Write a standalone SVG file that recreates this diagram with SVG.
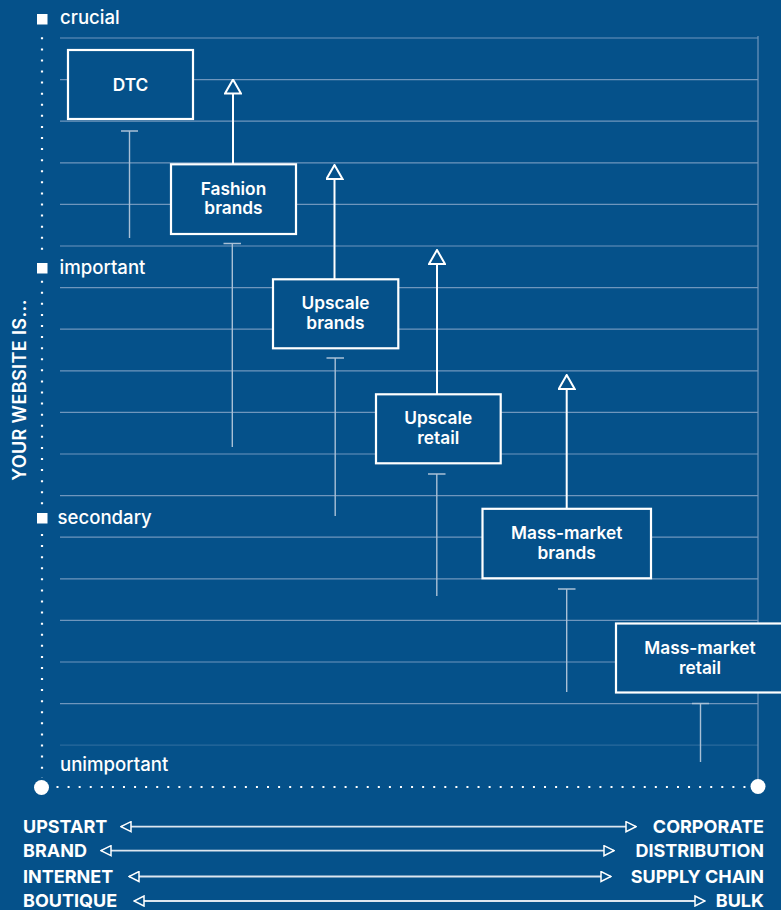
<svg xmlns="http://www.w3.org/2000/svg" width="781" height="910" viewBox="0 0 781 910">
  <style>
    .bg { fill: #05518a; }
    .grid { stroke: #6f96bd; stroke-width: 1.2; fill: none; }
    .dots { stroke: #ffffff; stroke-width: 2.2; stroke-dasharray: 2 9.08; fill: none; }
    .box { fill: #05518a; stroke: #ffffff; stroke-width: 2.2; }
    .up { stroke: #ffffff; stroke-width: 2; fill: none; }
    .stem { stroke: #a9c0d6; stroke-width: 1.4; fill: none; }
    .axis { stroke: #dde6ef; stroke-width: 1.8; fill: none; }
    .lbl { font-family: Inter, "Liberation Sans", sans-serif; font-weight: 500; font-size: 18.6px; fill: #ffffff; }
    .node { font-family: Inter, "Liberation Sans", sans-serif; font-weight: 600; font-size: 17.3px; fill: #ffffff; text-anchor: middle; }
    .cap { font-family: Inter, "Liberation Sans", sans-serif; font-weight: 700; font-size: 18px; fill: #ffffff; }
    .ttl { font-family: Inter, "Liberation Sans", sans-serif; font-weight: 600; font-size: 18px; letter-spacing: 0.4px; fill: #ffffff; }
  </style>
  <defs>
    <marker id="tri-up" viewBox="0 0 16 18" refX="15" refY="9" markerWidth="16" markerHeight="18" markerUnits="userSpaceOnUse" orient="auto">
      <path d="M1,1 L15,9 L1,17 Z" fill="#05518a" stroke="#ffffff" stroke-width="2"/>
    </marker>
    <marker id="tri-axis" viewBox="0 0 12 12" refX="11" refY="6" markerWidth="12" markerHeight="12" markerUnits="userSpaceOnUse" orient="auto-start-reverse">
      <path d="M1,1 L11,6 L1,11 Z" fill="#05518a" stroke="#ffffff" stroke-width="1.5"/>
    </marker>
  </defs>

  <rect class="bg" x="0" y="0" width="781" height="910"/>

  <!-- horizontal grid -->
  <g id="grid">
    <path class="grid" d="M60,38H758 M60,79.6H758 M60,121.2H758 M60,162.8H758 M60,204.4H758 M60,246H758 M60,287.6H758 M60,329.2H758 M60,370.8H758 M60,412.4H758 M60,454H758 M60,495.6H758 M60,537.2H758 M60,578.8H758 M60,620.4H758 M60,662H758 M60,703.6H758"/>
    <path class="grid" d="M60,745.2H758" opacity="0.35"/>
    <path class="grid" d="M758,36V787"/>
  </g>

  <!-- vertical axis: importance scale -->
  <g id="y-axis">
    <path class="dots" d="M42,37.3V250 M42,280.7V505 M42,534V778"/>
    <rect x="37" y="14" width="10.5" height="10.5" fill="#ffffff"/>
    <rect x="37" y="263" width="10.5" height="10.5" fill="#ffffff"/>
    <rect x="37" y="513" width="10.5" height="10.5" fill="#ffffff"/>
    <text class="lbl" x="60" y="24">crucial</text>
    <text class="lbl" x="59.5" y="273.5">important</text>
    <text class="lbl" x="57.5" y="523.5">secondary</text>
    <text class="lbl" x="60" y="771">unimportant</text>
    <text class="ttl" transform="translate(26,390) rotate(-90)" text-anchor="middle">YOUR WEBSITE IS...</text>
  </g>

  <!-- horizontal base axis -->
  <g id="x-axis">
    <path class="dots" d="M56.5,787H748" stroke-dasharray="2 9.05"/>
    <circle cx="41.5" cy="787.5" r="7.5" fill="#ffffff"/>
    <circle cx="758" cy="786.5" r="7.5" fill="#ffffff"/>
  </g>

  <!-- connectors: rising arrows and T-bar stems -->
  <g id="connectors">
    <path class="stem" d="M121,131H138 M129.5,131V238"/>
    <path class="stem" d="M223.5,243.5H241 M232.3,243.5V447"/>
    <path class="stem" d="M326.5,358H344 M335.2,358V516"/>
    <path class="stem" d="M428,474H445.5 M436.8,474V596"/>
    <path class="stem" d="M558,589H575.5 M566.7,589V692"/>
    <path class="stem" d="M692,703.5H709 M700.5,703.5V762"/>

    <path class="up" d="M233,164V79.5" marker-end="url(#tri-up)"/>
    <path class="up" d="M334.5,279V165" marker-end="url(#tri-up)"/>
    <path class="up" d="M437,394V250" marker-end="url(#tri-up)"/>
    <path class="up" d="M566.7,509V375" marker-end="url(#tri-up)"/>
  </g>

  <g id="dtc">
    <rect class="box" x="68" y="50" width="125" height="69"/>
    <text class="node" x="130.5" y="91">DTC</text>
  </g>
  <g id="fashion-brands">
    <rect class="box" x="171" y="164.3" width="125" height="69.7"/>
    <text class="node" x="233.5" y="194.5">Fashion</text>
    <text class="node" x="233.5" y="214">brands</text>
  </g>
  <g id="upscale-brands">
    <rect class="box" x="273" y="279.3" width="125.3" height="69"/>
    <text class="node" x="335.5" y="309">Upscale</text>
    <text class="node" x="335.5" y="328.5">brands</text>
  </g>
  <g id="upscale-retail">
    <rect class="box" x="376" y="394.3" width="124.7" height="69"/>
    <text class="node" x="438.3" y="424">Upscale</text>
    <text class="node" x="438.3" y="443.5">retail</text>
  </g>
  <g id="mass-market-brands">
    <rect class="box" x="482.5" y="508.8" width="168.5" height="69.5"/>
    <text class="node" x="566.7" y="539">Mass-market</text>
    <text class="node" x="566.7" y="558.5">brands</text>
  </g>
  <g id="mass-market-retail">
    <rect class="box" x="616" y="623.5" width="168.5" height="69"/>
    <text class="node" x="700" y="654">Mass-market</text>
    <text class="node" x="700" y="673.5">retail</text>
  </g>

  <!-- spectrum legend -->
  <g id="legend">
    <path class="axis" d="M121,826.7H636" marker-start="url(#tri-axis)" marker-end="url(#tri-axis)"/>
    <path class="axis" d="M101,850.7H614" marker-start="url(#tri-axis)" marker-end="url(#tri-axis)"/>
    <path class="axis" d="M129,876.5H611" marker-start="url(#tri-axis)" marker-end="url(#tri-axis)"/>
    <path class="axis" d="M134,901H705" marker-start="url(#tri-axis)" marker-end="url(#tri-axis)"/>
    <text class="cap" x="23" y="833">UPSTART</text>
    <text class="cap" x="23" y="857">BRAND</text>
    <text class="cap" x="23" y="882.5">INTERNET</text>
    <text class="cap" x="23" y="906.5">BOUTIQUE</text>
    <text class="cap" x="764" y="833" text-anchor="end">CORPORATE</text>
    <text class="cap" x="764" y="857" text-anchor="end">DISTRIBUTION</text>
    <text class="cap" x="764" y="882.5" text-anchor="end">SUPPLY CHAIN</text>
    <text class="cap" x="764" y="906.5" text-anchor="end">BULK</text>
  </g>
</svg>
